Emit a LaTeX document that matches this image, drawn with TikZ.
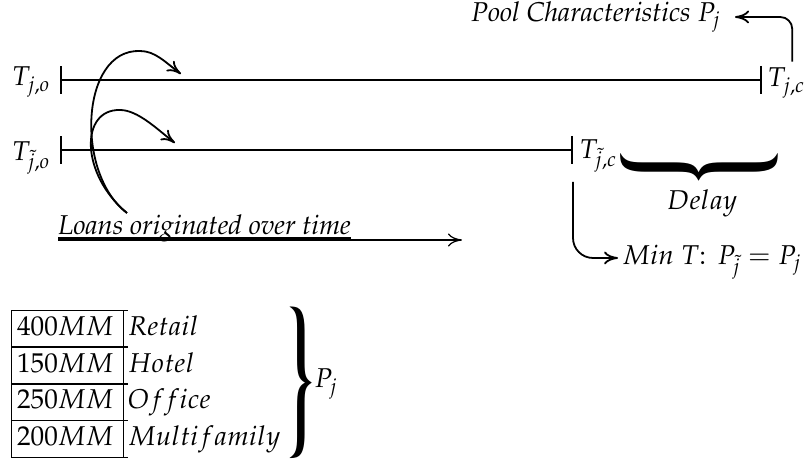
\documentclass[tikz,border=0pt]{standalone}
\usepackage[T1]{fontenc}
\usepackage{mathpazo}
\usepackage{graphicx}
\usetikzlibrary{arrows.meta}
\setlength{\arrayrulewidth}{0.7pt}
\renewcommand{\arraystretch}{1.08}
\begin{document}
\begin{tikzpicture}[x=0.5pt, y=0.5pt,
        every node/.style={font=\fontsize{13.6}{17}\selectfont},
        etiqueta/.style={inner sep=0pt},
        eje/.style={line width=.9pt, {Bar[width=14pt]}-{Bar[width=14pt]}},
        flecha/.style={line width=.9pt, -{To[length=7pt,width=6.5pt]}}
    ]
        \useasboundingbox (0,0) rectangle (809,464);
        % lineas de tiempo
        \coordinate (a0) at (60,384);
        \coordinate (a1) at (762,384);
        \coordinate (b0) at (60,314);
        \coordinate (b1) at (573,314);
        \draw[eje] (a0) -- (a1);
        \draw[eje] (b0) -- (b1);
        \node[etiqueta, anchor=east] (tjo) at (51,382) {$T_{j,o}$};
        \node[etiqueta, anchor=east] (tto) at (51,306) {$T_{\tilde{j},o}$};
        \node[etiqueta, anchor=west] (tjc) at (767,381) {$T_{j,c}$};
        \node[etiqueta, anchor=west] (ttc) at (579,308) {$T_{\tilde{j},c}$};
        % caracteristicas del pool
        \node[etiqueta] (pool) at (596,447) {\textit{Pool Characteristics} $P_j$};
        \draw[flecha, rounded corners=6pt] ([xshift=3pt,yshift=3pt]tjc.north) |- ([xshift=7pt]pool.east);
        % retraso
        \node[etiqueta, rotate=-90] (llave) at (700,297) {\resizebox*{15pt}{78pt}{\textbf{\}}}};
        \node[etiqueta] (delay) at (702,261) {$Delay$};
        \coordinate (m0) at ([yshift=-16pt]b1);
        \node[etiqueta, anchor=west] (minT) at (622,202) {$Min\ T\colon\ P_{\tilde{j}} = P_j$};
        \draw[flecha, rounded corners=10pt] (m0) |- ([xshift=-2pt,yshift=2pt]minT.west);
        % prestamos
        \node[etiqueta, anchor=base west] (prest) at (58,229) {\textit{Loans originated over time}};
        \coordinate (ltip) at (462,224);
        \draw[line width=.6pt] ([yshift=-1.5pt]prest.base west) -- ([yshift=-1.5pt]prest.base east);
        \draw[flecha, line width=.6pt] ([yshift=-2.5pt]prest.base west) -- (ltip);
        \coordinate (lc) at (127,251);
        \coordinate (topA) at (140,413);
        \coordinate (tipA) at (181,390);
        \coordinate (topB) at (120,354);
        \coordinate (tipB) at (175,321);
        \draw[flecha] (lc) .. controls +(-52,39) and +(-60,2) .. (topA) .. controls +(15,0) and +(-16,12) .. (tipA);
        \draw[flecha] (lc) .. controls +(-47,39) and +(-40,1) .. (topB) .. controls +(18,0) and +(-17,13) .. (tipB);
        % tabla
        \node[etiqueta, anchor=south west] (tabla) at (11,7) {$\begin{array}{|@{\hspace{2.5pt}}r|@{\hspace{2pt}}l}
            \cline{1-1} 400MM & Retail\\
            \cline{1-1} 150MM & Hotel\\
            \cline{1-1} 250MM & Office\\
            \cline{1-1} 200MM & Multifamily\\
            \cline{1-1}
        \end{array}$};
        \node[etiqueta] (llave2) at (300,82) {\resizebox*{12pt}{75pt}{\textbf{\}}}};
        \node[etiqueta, anchor=west] (pj) at (314,80) {$P_j$};
    \end{tikzpicture}
\end{document}
